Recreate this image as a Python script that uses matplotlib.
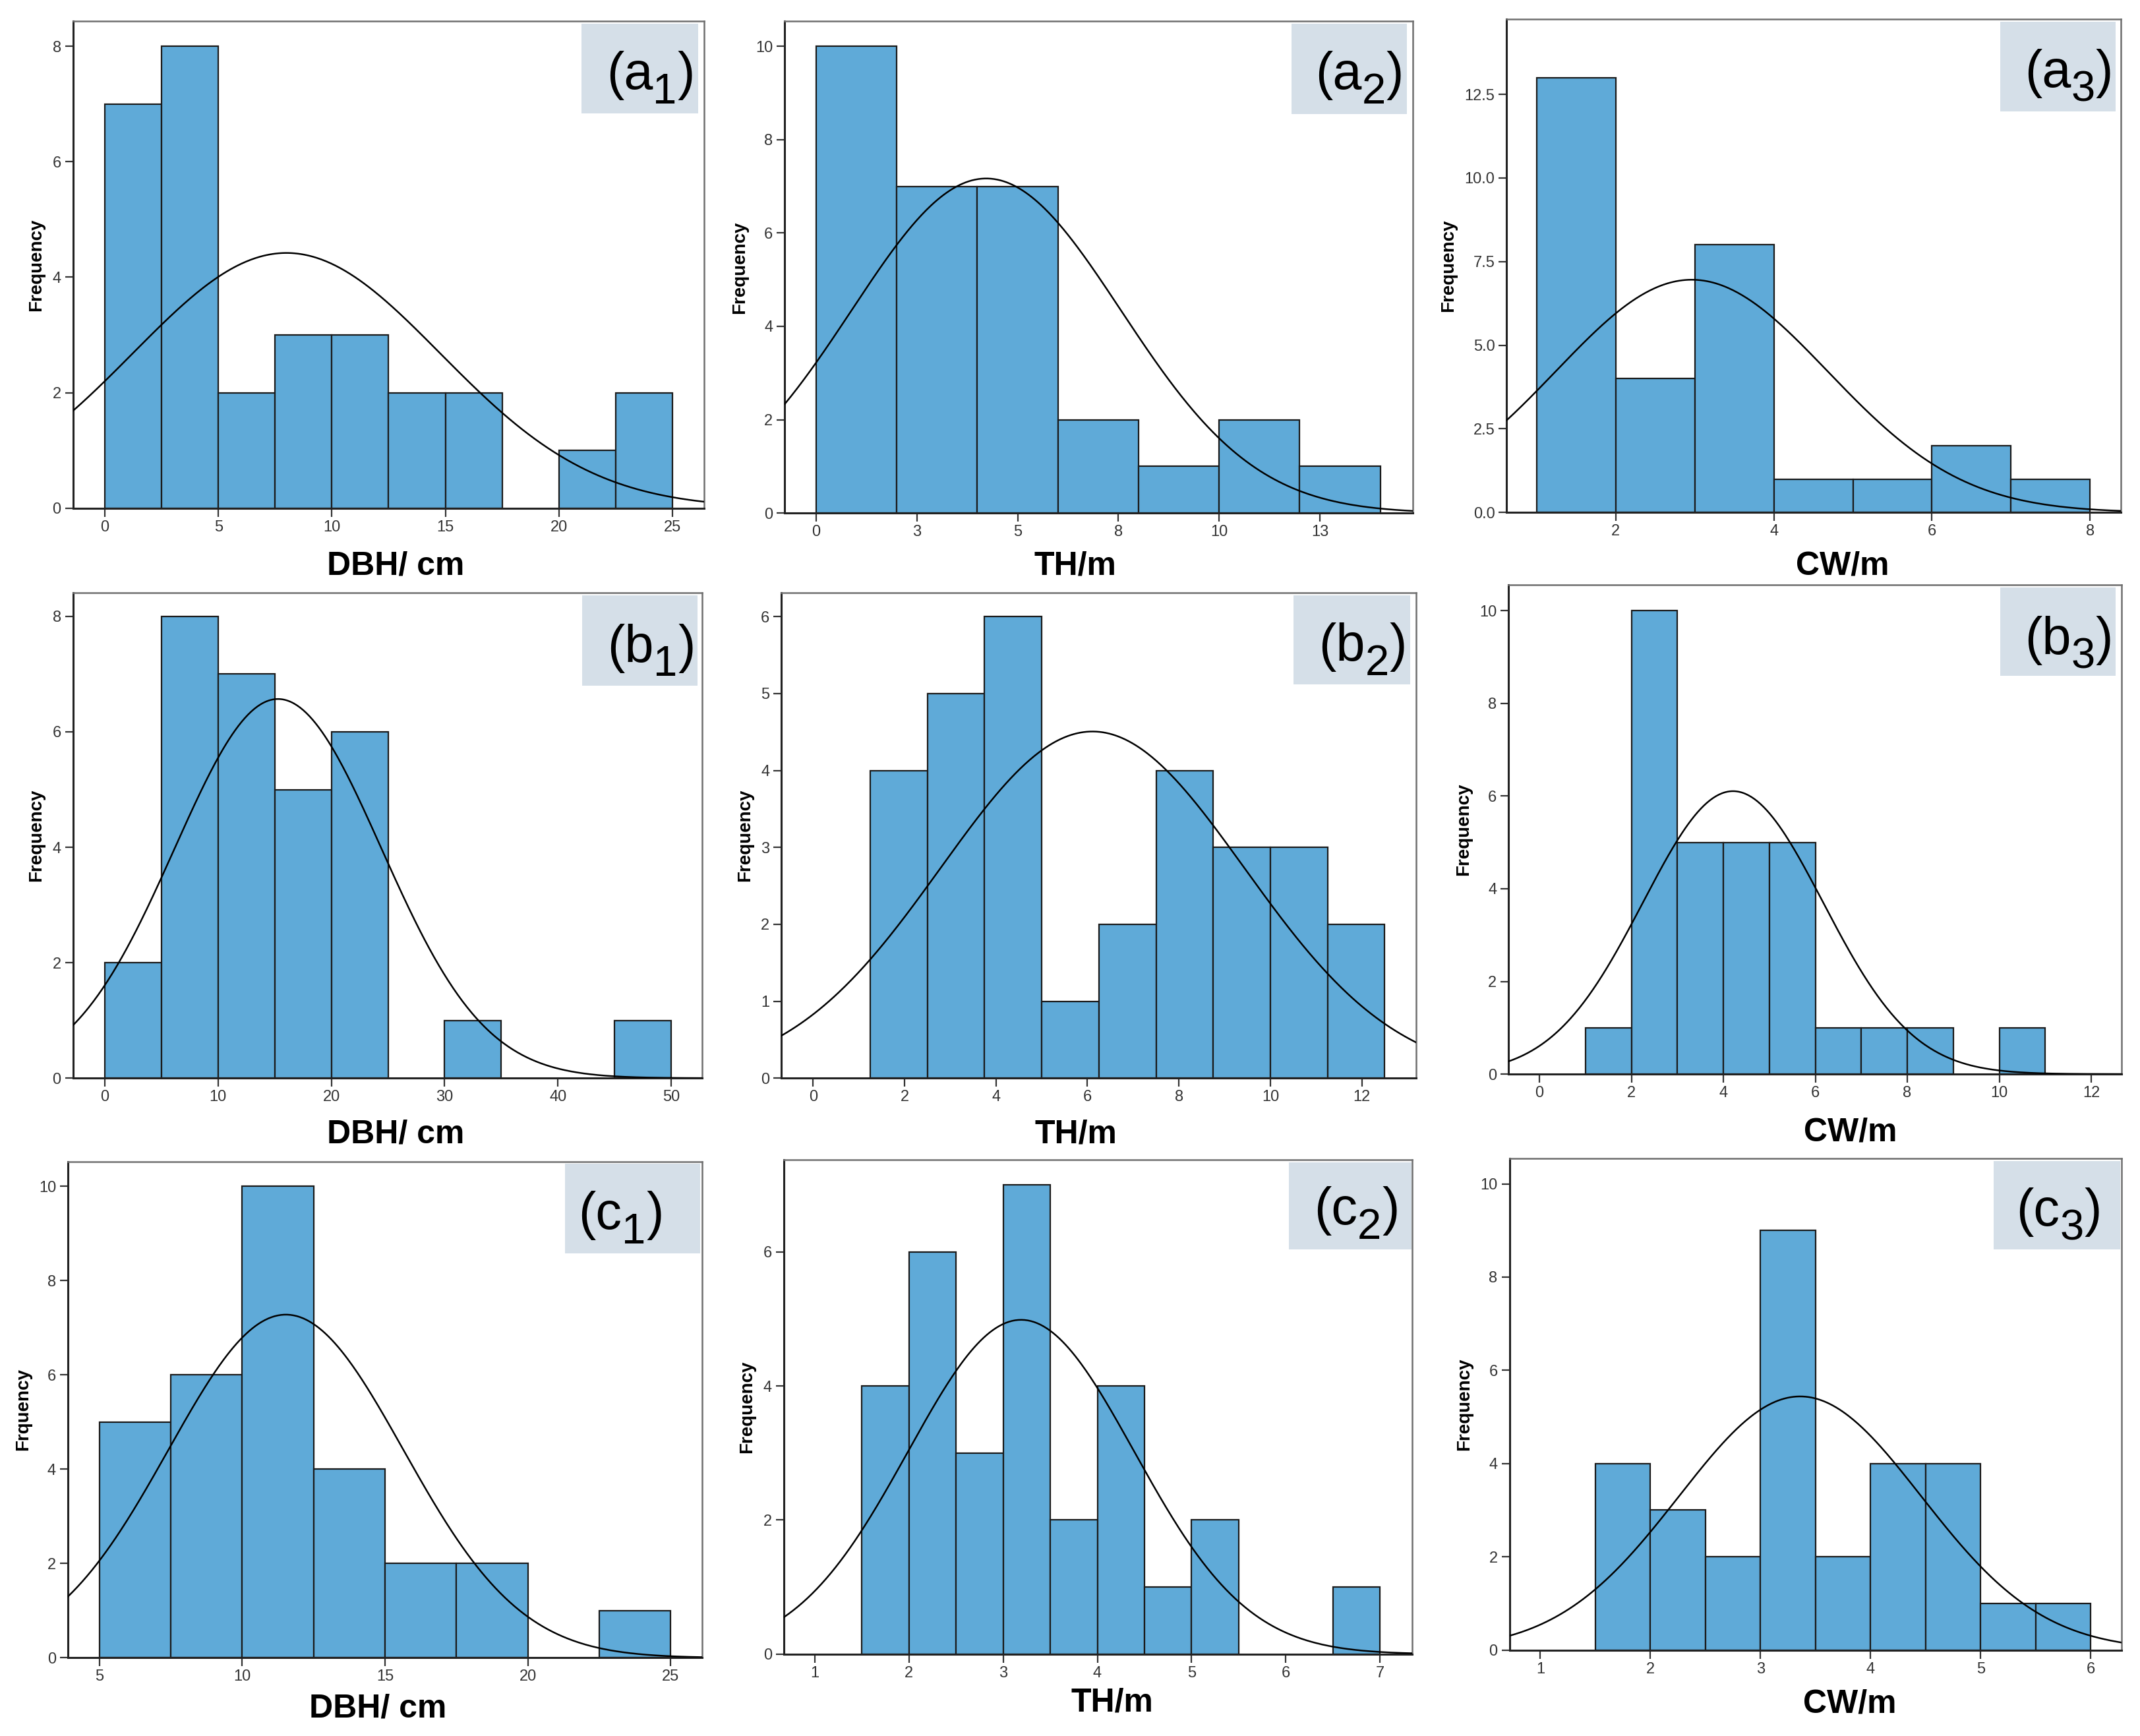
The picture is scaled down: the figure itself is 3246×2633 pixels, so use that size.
import numpy as np
import matplotlib
matplotlib.use("Agg")
import matplotlib.pyplot as plt
from matplotlib.patches import Rectangle

plt.rcParams['font.family'] = ['Liberation Sans', 'DejaVu Sans']

# ---- data (bin start, bin width, counts) ----
labels = ['a', 'a', 'a', 'b', 'b', 'b', 'c', 'c', 'c']
subs = ['1', '2', '3', '1', '2', '3', '1', '2', '3']
xtitles = ['DBH/ cm', 'TH/m', 'CW/m'] * 3
ytitles = ['Frequency'] * 6 + ['Frquency', 'Frequency', 'Frequency']

bin_start = [0, 0, 1, 0, 1.25, 1, 5, 1.5, 1.5]
bin_width = [2.5, 2, 1, 5, 1.25, 1, 2.5, 0.5, 0.5]

counts_a1 = [7, 8, 2, 3, 3, 2, 2, 0, 1, 2]
counts_a2 = [10, 7, 7, 2, 1, 2, 1]
counts_a3 = [13, 4, 8, 1, 1, 2, 1]
counts_b1 = [2, 8, 7, 5, 6, 0, 1, 0, 0, 1]
counts_b2 = [4, 5, 6, 1, 2, 4, 3, 3, 2]
counts_b3 = [1, 10, 5, 5, 5, 1, 1, 1, 0, 1]
counts_c1 = [5, 6, 10, 4, 2, 2, 0, 1]
counts_c2 = [4, 6, 3, 7, 2, 4, 1, 2, 0, 0, 1]
counts_c3 = [4, 3, 2, 9, 2, 4, 4, 1, 1]
all_counts = [counts_a1, counts_a2, counts_a3, counts_b1, counts_b2,
              counts_b3, counts_c1, counts_c2, counts_c3]

# fitted normal curve: mean and std dev (N = sum of counts)
means = [8.0, 4.22, 2.96, 15.3, 6.11, 4.21, 11.53, 3.19, 3.36]
sds = [6.77, 3.34, 1.72, 9.11, 3.32, 1.96, 4.11, 1.20, 1.10]

xlims = [(-1.4, 26.4), (-0.78, 14.8), (0.62, 8.39), (-2.78, 52.7), (-0.69, 13.18),
         (-0.67, 12.66), (3.9, 26.1), (0.67, 7.34), (0.72, 6.28)]
ylims = [8.43, 10.53, 14.75, 8.41, 6.31, 10.56, 10.53, 7.37, 10.54]

xticks = [[0, 5, 10, 15, 20, 25], [0, 2.5, 5, 7.5, 10, 12.5], [2, 4, 6, 8],
          [0, 10, 20, 30, 40, 50], [0, 2, 4, 6, 8, 10, 12], [0, 2, 4, 6, 8, 10, 12],
          [5, 10, 15, 20, 25], [1, 2, 3, 4, 5, 6, 7], [1, 2, 3, 4, 5, 6]]
xticklabels = [None, ['0', '3', '5', '8', '10', '13'], None, None, None, None, None, None, None]
yticks = [[0, 2, 4, 6, 8], [0, 2, 4, 6, 8, 10], [0, 2.5, 5, 7.5, 10, 12.5],
          [0, 2, 4, 6, 8], [0, 1, 2, 3, 4, 5, 6], [0, 2, 4, 6, 8, 10],
          [0, 2, 4, 6, 8, 10], [0, 2, 4, 6], [0, 2, 4, 6, 8, 10]]
yticklabels = [None, None, ['0.0', '2.5', '5.0', '7.5', '10.0', '12.5'],
               None, None, None, None, None, None]

# ---- layout, measured on a 1568x1272 copy: axes (left, right, top, bottom) ----
W, H = 1568, 1272
px = [(53.5, 516, 15.7, 372.3), (575, 1035, 15.7, 376), (1104, 1554, 14, 375.5),
      (53.5, 514.4, 434.3, 790), (572.6, 1037.4, 434.3, 790), (1105.4, 1554.5, 428.5, 787),
      (49.8, 514.4, 851, 1214.7), (574.3, 1034.5, 850, 1212), (1106, 1554.5, 849, 1209)]
# x-title centre (axes fraction) and baseline distance below the axis (px of the copy)
xt_x = [0.511, 0.463, 0.547, 0.513, 0.464, 0.558, 0.489, 0.523, 0.556]
xt_drop = [48.8, 45, 45.5, 47.5, 47.5, 49, 43.5, 42, 46]
# panel tag box and text (axes fraction)
box_x0 = [0.806, 0.807, 0.804, 0.809, 0.807, 0.802, 0.784, 0.804, 0.791]
box_x1 = [0.990, 0.991, 0.991, 0.993, 0.991, 0.990, 0.997, 0.999, 0.998]
box_y0 = [0.811, 0.812, 0.813, 0.809, 0.811, 0.814, 0.815, 0.819, 0.815]
tag_x = [0.845, 0.845, 0.843, 0.849, 0.847, 0.842, 0.805, 0.844, 0.828]
tag_y = [0.861, 0.862, 0.862, 0.858, 0.86, 0.859, 0.864, 0.870, 0.864]

BAR = '#5FAAD8'
BOXC = '#D5DFE8'

fig = plt.figure(figsize=(16.23, 13.165), dpi=200)

for i in range(9):
    l, r, t, b = px[i]
    ax = fig.add_axes([l / W, 1 - b / H, (r - l) / W, (b - t) / H])
    cnt = np.array(all_counts[i], dtype=float)
    left_edges = bin_start[i] + bin_width[i] * np.arange(len(cnt))
    keep = cnt > 0
    ax.bar(left_edges[keep], cnt[keep], width=bin_width[i], align='edge',
           color=BAR, edgecolor='#1a1a1a', linewidth=0.8, zorder=2)

    # normal curve scaled to the counts
    n = cnt.sum()
    xs = np.linspace(xlims[i][0], xlims[i][1], 400)
    ys = n * bin_width[i] / (sds[i] * np.sqrt(2 * np.pi)) * np.exp(-0.5 * ((xs - means[i]) / sds[i]) ** 2)
    ax.plot(xs, ys, color='black', linewidth=0.9, zorder=3)

    ax.set_xlim(*xlims[i])
    ax.set_ylim(0, ylims[i])
    ax.set_xticks(xticks[i])
    if xticklabels[i] is not None:
        ax.set_xticklabels(xticklabels[i])
    ax.set_yticks(yticks[i])
    if yticklabels[i] is not None:
        ax.set_yticklabels(yticklabels[i])

    ax.tick_params(axis='both', direction='out', length=4.5, width=0.8,
                   color='#333333', labelcolor='#333333', labelsize=8.5, pad=2)

    for s in ['top', 'right']:
        ax.spines[s].set_color('#6f6f6f')
        ax.spines[s].set_linewidth(0.9)
    for s in ['left', 'bottom']:
        ax.spines[s].set_color('#222222')
        ax.spines[s].set_linewidth(1.1)

    ax.set_xlabel(xtitles[i], fontsize=18, fontweight='bold', va='baseline', ha='center')
    ax.xaxis.set_label_coords(xt_x[i], -xt_drop[i] / (b - t))
    ax.set_ylabel(ytitles[i], fontsize=10, fontweight='bold', labelpad=4)

    # panel tag: grey-blue box, "(a" + large subscript + ")"
    ax.add_patch(Rectangle((box_x0[i], box_y0[i]), box_x1[i] - box_x0[i], 0.995 - box_y0[i],
                           transform=ax.transAxes, facecolor=BOXC, edgecolor='none', zorder=4))
    t1 = ax.text(tag_x[i], tag_y[i], '(' + labels[i], transform=ax.transAxes,
                 ha='left', va='baseline', fontsize=28.5, zorder=5)
    t2 = ax.annotate(subs[i], xy=(1, tag_y[i]), xycoords=(t1, 'axes fraction'),
                     xytext=(0, -7.8), textcoords='offset points', ha='left',
                     va='baseline', fontsize=23.5, zorder=5, annotation_clip=False)
    ax.annotate(')', xy=(1, tag_y[i]), xycoords=(t2, 'axes fraction'),
                xytext=(0.3, 0), textcoords='offset points', ha='left',
                va='baseline', fontsize=28.5, zorder=5, annotation_clip=False)

fig.savefig('out.png', dpi=200)
